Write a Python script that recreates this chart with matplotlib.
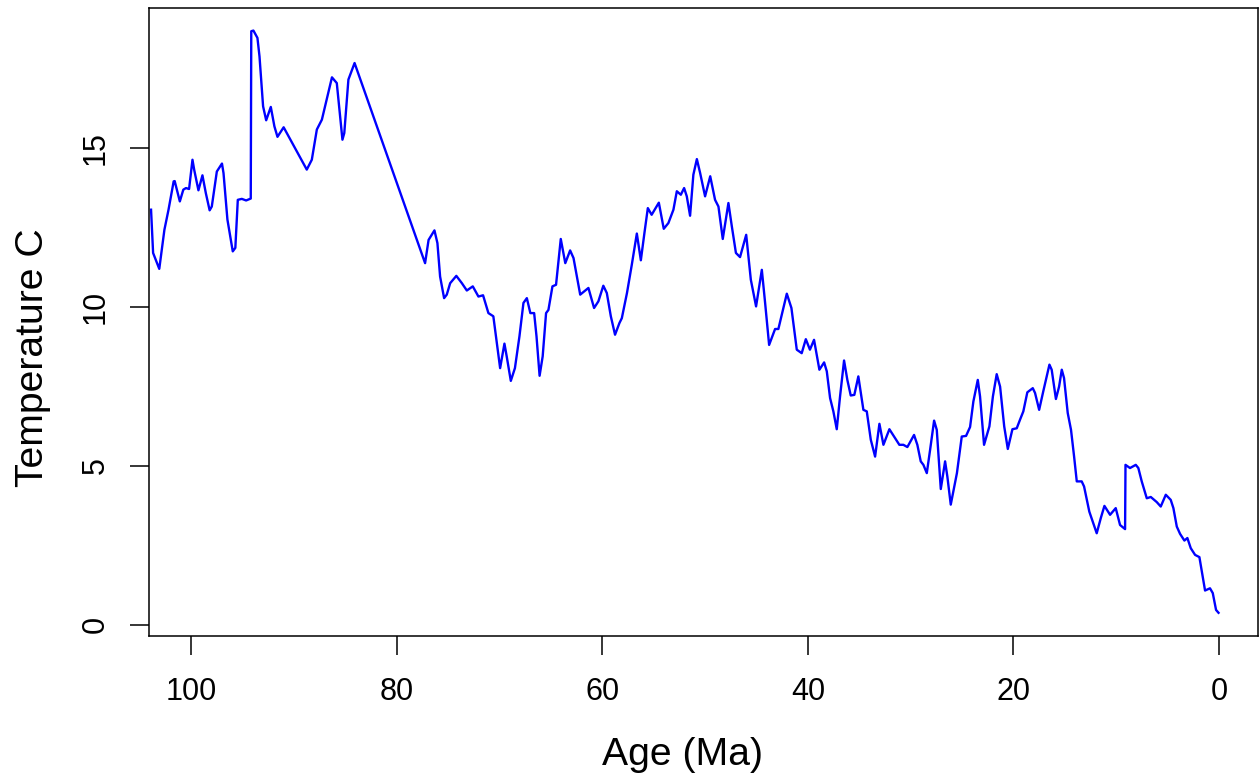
import numpy as np
import matplotlib.pyplot as plt

plt.rcParams['font.family'] = ['Liberation Sans', 'DejaVu Sans']

# age (Ma) and temperature (C)
age = [103.9, 103.7, 103.1, 102.6, 102.2, 101.7, 101.6, 101.1, 100.76, 100.5,
       100.2, 99.87, 99.7, 99.29, 98.9, 98.57, 98.2, 97.99, 97.5, 97.0,
       96.85, 96.47, 95.95, 95.7, 95.46, 95.07, 94.65, 94.2, 94.15, 93.94,
       93.55, 93.35, 93.0, 92.7, 92.25, 91.9, 91.6, 91.0, 88.75, 88.26,
       87.77, 87.28, 86.3, 85.83, 85.57, 85.28, 85.1, 84.7, 84.1, 77.24,
       76.9, 76.33, 76.04, 75.78, 75.39, 75.13, 74.8, 74.2, 73.66, 73.18,
       72.6, 72.05, 71.6, 71.08, 70.6, 70.26, 69.94, 69.52, 69.3, 68.9,
       68.5, 68.06, 67.67, 67.34, 67.0, 66.63, 66.4, 66.1, 65.8, 65.47,
       65.24, 64.85, 64.5, 64.04, 63.6, 63.13, 62.8, 62.15, 61.35, 60.8,
       60.38, 59.9, 59.56, 59.17, 58.76, 58.33, 58.1, 57.6, 57.13, 56.64,
       56.25, 55.9, 55.57, 55.2, 54.5, 54.02, 53.57, 53.08, 52.75, 52.36,
       52.04, 51.78, 51.46, 51.14, 50.8, 50.48, 50.0, 49.5, 49.03, 48.7,
       48.28, 47.73, 47.4, 47.0, 46.6, 46.0, 45.55, 45.04, 44.48, 44.16,
       43.77, 43.19, 42.87, 42.05, 41.6, 41.08, 40.6, 40.2, 39.8, 39.4,
       38.88, 38.42, 38.16, 37.84, 37.52, 37.19, 36.87, 36.48, 36.16, 35.83,
       35.48, 35.09, 34.6, 34.27, 33.88, 33.46, 33.04, 32.65, 32.07, 31.61,
       31.1, 30.71, 30.32, 29.67, 29.35, 29.02, 28.76, 28.43, 28.11, 27.72,
       27.46, 27.07, 26.65, 26.43, 26.1, 25.5, 25.03, 24.61, 24.22, 23.9,
       23.47, 23.25, 22.86, 22.34, 22.0, 21.63, 21.3, 20.9, 20.55, 20.1,
       19.68, 19.36, 19.04, 18.65, 18.12, 17.9, 17.5, 17.1, 16.5, 16.28,
       15.87, 15.56, 15.3, 15.08, 14.72, 14.4, 14.1, 13.84, 13.36, 13.13,
       12.62, 11.9, 11.5, 11.15, 10.6, 10.05, 9.63, 9.14, 9.1, 8.66,
       8.1, 7.85, 7.52, 7.03, 6.64, 6.06, 5.67, 5.18, 4.7, 4.44,
       4.11, 3.79, 3.37, 3.08, 2.75, 2.33, 1.91, 1.59, 1.36, 0.88,
       0.61, 0.29, 0.05]
temp = [13.05, 11.69, 11.19, 12.42, 13.05, 13.94, 13.95, 13.31, 13.68, 13.73,
        13.7, 14.62, 14.3, 13.66, 14.13, 13.57, 13.03, 13.15, 14.25, 14.5,
        14.2, 12.74, 11.74, 11.85, 13.36, 13.39, 13.34, 13.4, 18.66, 18.68,
        18.45, 17.87, 16.3, 15.86, 16.28, 15.67, 15.34, 15.64, 14.31, 14.62,
        15.57, 15.88, 17.21, 17.03, 16.19, 15.25, 15.46, 17.14, 17.66, 11.37,
        12.1, 12.4, 12.0, 10.95, 10.27, 10.38, 10.74, 10.97, 10.74, 10.51,
        10.64, 10.32, 10.36, 9.8, 9.7, 8.86, 8.07, 8.84, 8.44, 7.67,
        8.07, 9.07, 10.12, 10.27, 9.8, 9.8, 9.07, 7.83, 8.44, 9.8,
        9.9, 10.64, 10.69, 12.13, 11.37, 11.77, 11.53, 10.38, 10.59, 9.96,
        10.17, 10.66, 10.43, 9.7, 9.12, 9.49, 9.64, 10.43, 11.32, 12.3,
        11.46, 12.32, 13.1, 12.89, 13.27, 12.45, 12.63, 13.05, 13.63, 13.52,
        13.73, 13.47, 12.86, 14.15, 14.64, 14.2, 13.47, 14.1, 13.36, 13.15,
        12.13, 13.26, 12.53, 11.69, 11.56, 12.26, 10.85, 10.01, 11.16, 10.12,
        8.8, 9.3, 9.3, 10.41, 9.96, 8.65, 8.54, 8.98, 8.65, 8.96,
        8.02, 8.25, 7.97, 7.13, 6.71, 6.15, 7.18, 8.31, 7.7, 7.21,
        7.23, 7.81, 6.76, 6.71, 5.82, 5.29, 6.32, 5.66, 6.15, 5.92,
        5.66, 5.66, 5.59, 5.97, 5.66, 5.14, 5.03, 4.77, 5.5, 6.42,
        6.13, 4.27, 5.14, 4.66, 3.78, 4.77, 5.92, 5.94, 6.22, 7.02,
        7.7, 7.18, 5.66, 6.24, 7.18, 7.88, 7.49, 6.24, 5.53, 6.15,
        6.18, 6.45, 6.71, 7.31, 7.44, 7.29, 6.76, 7.34, 8.18, 8.02,
        7.1, 7.49, 8.02, 7.76, 6.66, 6.13, 5.29, 4.51, 4.51, 4.35,
        3.56, 2.88, 3.36, 3.74, 3.46, 3.67, 3.14, 3.01, 5.03, 4.93,
        5.03, 4.93, 4.51, 3.98, 4.02, 3.86, 3.72, 4.09, 3.93, 3.67,
        3.09, 2.86, 2.65, 2.73, 2.41, 2.2, 2.13, 1.52, 1.08, 1.15,
        1.0, 0.47, 0.38]

xticks = [100, 80, 60, 40, 20, 0]
yticks = [0, 5, 10, 15]

fig = plt.figure(figsize=(12.6, 7.81), dpi=100)
ax = fig.add_axes([149.3 / 1260, 1 - 635.7 / 781, 1109 / 1260, 627.4 / 781])

ax.plot(age, temp, color='#0000ff', lw=1.7)

ax.set_xlim(104.07, -3.82)
ax.set_ylim(-0.34, 19.38)
ax.set_xticks(xticks)
ax.set_yticks(yticks)

for s in ax.spines.values():
    s.set_linewidth(1.1)
ax.tick_params(length=14, width=1.1, labelsize=22)
ax.tick_params(axis='x', pad=16)
ax.tick_params(axis='y', pad=14, labelrotation=90)
for lab in ax.get_yticklabels():
    lab.set_va('center')

# axis titles placed where they sit in the original
fig.text(683 / 1260, 1 - 765 / 781, 'Age (Ma)', fontsize=28.2,
         ha='center', va='baseline')
fig.text(43 / 1260, 1 - 358 / 781, 'Temperature C', fontsize=28.2,
         rotation=90, rotation_mode='anchor', ha='center', va='baseline')

fig.savefig('out.png', dpi=100)
